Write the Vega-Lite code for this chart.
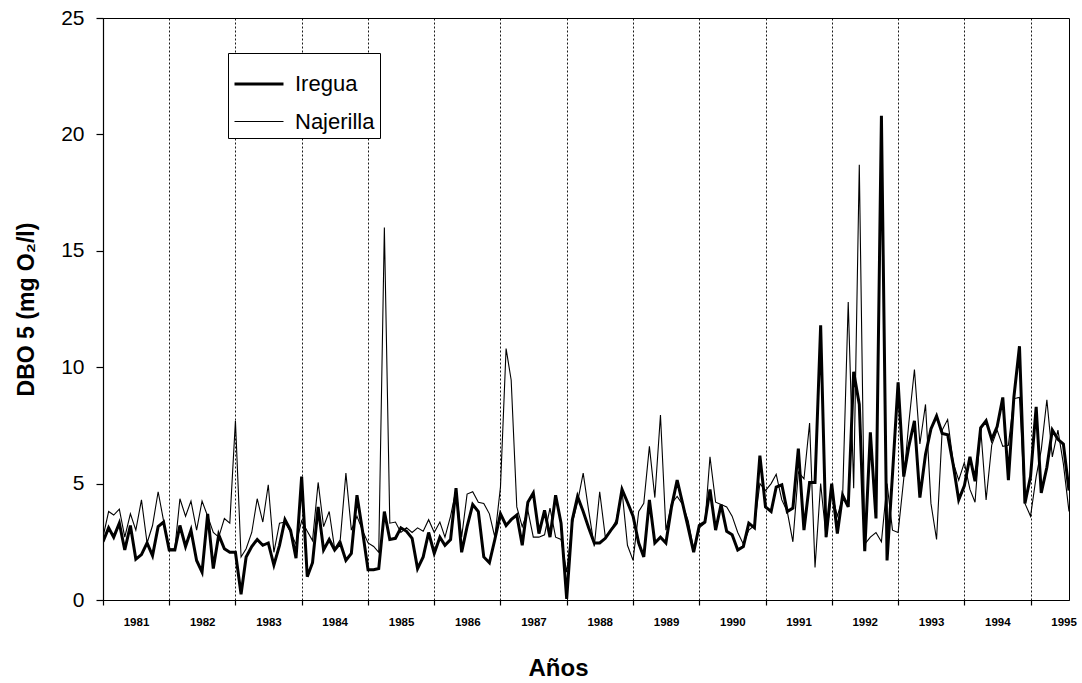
{
  "$schema": "https://vega.github.io/schema/vega-lite/v6.json",
  "width": 966,
  "height": 582,
  "autosize": "none",
  "padding": {"left": 103, "top": 18, "right": 13, "bottom": 83},
  "background": "white",
  "config": {
    "font": "Liberation Sans",
    "view": {"stroke": "black", "strokeWidth": 1},
    "axis": {"domainColor": "black", "tickColor": "black", "labelColor": "black", "titleColor": "black", "domainWidth": 1.2, "tickWidth": 1.2}
  },
  "data": {
    "format": {"parse": {"d": "utc:'%Y-%m'"}},
    "values": [
      {"d":"1981-01","Iregua":2.5,"Najerilla":2.7},{"d":"1981-02","Iregua":3.1,"Najerilla":3.8},{"d":"1981-03","Iregua":2.7,"Najerilla":3.65},{"d":"1981-04","Iregua":3.3,"Najerilla":3.9},{"d":"1981-05","Iregua":2.15,"Najerilla":2.7},{"d":"1981-06","Iregua":3.2,"Najerilla":3.7},{"d":"1981-07","Iregua":1.75,"Najerilla":3.0},{"d":"1981-08","Iregua":1.95,"Najerilla":4.3},{"d":"1981-09","Iregua":2.45,"Najerilla":2.45},{"d":"1981-10","Iregua":1.9,"Najerilla":3.2},{"d":"1981-11","Iregua":3.15,"Najerilla":4.65},{"d":"1981-12","Iregua":3.35,"Najerilla":3.4},
      {"d":"1982-01","Iregua":2.15,"Najerilla":2.2},{"d":"1982-02","Iregua":2.15,"Najerilla":2.2},{"d":"1982-03","Iregua":3.2,"Najerilla":4.35},{"d":"1982-04","Iregua":2.3,"Najerilla":3.6},{"d":"1982-05","Iregua":3.0,"Najerilla":4.25},{"d":"1982-06","Iregua":1.7,"Najerilla":3.0},{"d":"1982-07","Iregua":1.2,"Najerilla":4.25},{"d":"1982-08","Iregua":3.7,"Najerilla":3.6},{"d":"1982-09","Iregua":1.35,"Najerilla":2.9},{"d":"1982-10","Iregua":2.8,"Najerilla":2.7},{"d":"1982-11","Iregua":2.2,"Najerilla":3.5},{"d":"1982-12","Iregua":2.05,"Najerilla":3.3},
      {"d":"1983-01","Iregua":2.05,"Najerilla":7.7},{"d":"1983-02","Iregua":0.25,"Najerilla":1.85},{"d":"1983-03","Iregua":1.85,"Najerilla":2.2},{"d":"1983-04","Iregua":2.3,"Najerilla":2.9},{"d":"1983-05","Iregua":2.6,"Najerilla":4.35},{"d":"1983-06","Iregua":2.35,"Najerilla":3.35},{"d":"1983-07","Iregua":2.45,"Najerilla":4.95},{"d":"1983-08","Iregua":1.5,"Najerilla":2.05},{"d":"1983-09","Iregua":2.35,"Najerilla":3.3},{"d":"1983-10","Iregua":3.45,"Najerilla":3.35},{"d":"1983-11","Iregua":3.0,"Najerilla":2.9},{"d":"1983-12","Iregua":1.8,"Najerilla":2.4},
      {"d":"1984-01","Iregua":5.3,"Najerilla":3.4},{"d":"1984-02","Iregua":1.0,"Najerilla":2.95},{"d":"1984-03","Iregua":1.6,"Najerilla":2.55},{"d":"1984-04","Iregua":4.0,"Najerilla":5.05},{"d":"1984-05","Iregua":2.15,"Najerilla":3.15},{"d":"1984-06","Iregua":2.6,"Najerilla":3.8},{"d":"1984-07","Iregua":2.15,"Najerilla":2.2},{"d":"1984-08","Iregua":2.45,"Najerilla":2.6},{"d":"1984-09","Iregua":1.7,"Najerilla":5.45},{"d":"1984-10","Iregua":2.0,"Najerilla":3.0},{"d":"1984-11","Iregua":4.5,"Najerilla":3.6},{"d":"1984-12","Iregua":3.0,"Najerilla":3.0},
      {"d":"1985-01","Iregua":1.3,"Najerilla":2.45},{"d":"1985-02","Iregua":1.3,"Najerilla":2.3},{"d":"1985-03","Iregua":1.35,"Najerilla":2.05},{"d":"1985-04","Iregua":3.8,"Najerilla":16.0},{"d":"1985-05","Iregua":2.6,"Najerilla":3.3},{"d":"1985-06","Iregua":2.65,"Najerilla":3.35},{"d":"1985-07","Iregua":3.1,"Najerilla":2.9},{"d":"1985-08","Iregua":2.95,"Najerilla":3.1},{"d":"1985-09","Iregua":2.65,"Najerilla":2.9},{"d":"1985-10","Iregua":1.35,"Najerilla":3.1},{"d":"1985-11","Iregua":1.85,"Najerilla":2.95},{"d":"1985-12","Iregua":2.9,"Najerilla":3.45},
      {"d":"1986-01","Iregua":2.0,"Najerilla":2.9},{"d":"1986-02","Iregua":2.7,"Najerilla":3.35},{"d":"1986-03","Iregua":2.35,"Najerilla":2.7},{"d":"1986-04","Iregua":2.6,"Najerilla":3.6},{"d":"1986-05","Iregua":4.8,"Najerilla":4.75},{"d":"1986-06","Iregua":2.05,"Najerilla":2.7},{"d":"1986-07","Iregua":3.15,"Najerilla":4.55},{"d":"1986-08","Iregua":4.1,"Najerilla":4.65},{"d":"1986-09","Iregua":3.8,"Najerilla":4.2},{"d":"1986-10","Iregua":1.85,"Najerilla":4.15},{"d":"1986-11","Iregua":1.6,"Najerilla":3.7},{"d":"1986-12","Iregua":2.6,"Najerilla":2.7},
      {"d":"1987-01","Iregua":3.7,"Najerilla":4.85},{"d":"1987-02","Iregua":3.2,"Najerilla":10.8},{"d":"1987-03","Iregua":3.45,"Najerilla":9.45},{"d":"1987-04","Iregua":3.65,"Najerilla":4.0},{"d":"1987-05","Iregua":2.35,"Najerilla":3.15},{"d":"1987-06","Iregua":4.2,"Najerilla":3.85},{"d":"1987-07","Iregua":4.6,"Najerilla":2.7},{"d":"1987-08","Iregua":2.85,"Najerilla":2.7},{"d":"1987-09","Iregua":3.85,"Najerilla":2.8},{"d":"1987-10","Iregua":2.7,"Najerilla":3.95},{"d":"1987-11","Iregua":4.5,"Najerilla":2.7},{"d":"1987-12","Iregua":3.3,"Najerilla":2.6},
      {"d":"1988-01","Iregua":0.05,"Najerilla":1.2},{"d":"1988-02","Iregua":3.45,"Najerilla":3.3},{"d":"1988-03","Iregua":4.45,"Najerilla":4.2},{"d":"1988-04","Iregua":3.8,"Najerilla":5.45},{"d":"1988-05","Iregua":3.1,"Najerilla":3.85},{"d":"1988-06","Iregua":2.45,"Najerilla":2.3},{"d":"1988-07","Iregua":2.45,"Najerilla":4.65},{"d":"1988-08","Iregua":2.65,"Najerilla":2.7},{"d":"1988-09","Iregua":3.0,"Najerilla":3.0},{"d":"1988-10","Iregua":3.3,"Najerilla":3.45},{"d":"1988-11","Iregua":4.75,"Najerilla":4.7},{"d":"1988-12","Iregua":4.2,"Najerilla":2.35},
      {"d":"1989-01","Iregua":3.6,"Najerilla":1.7},{"d":"1989-02","Iregua":2.45,"Najerilla":3.8},{"d":"1989-03","Iregua":1.85,"Najerilla":4.15},{"d":"1989-04","Iregua":4.3,"Najerilla":6.6},{"d":"1989-05","Iregua":2.45,"Najerilla":4.4},{"d":"1989-06","Iregua":2.7,"Najerilla":7.95},{"d":"1989-07","Iregua":2.45,"Najerilla":3.0},{"d":"1989-08","Iregua":4.0,"Najerilla":4.15},{"d":"1989-09","Iregua":5.15,"Najerilla":4.45},{"d":"1989-10","Iregua":4.15,"Najerilla":4.1},{"d":"1989-11","Iregua":3.1,"Najerilla":3.4},{"d":"1989-12","Iregua":2.05,"Najerilla":2.2},
      {"d":"1990-01","Iregua":3.2,"Najerilla":3.1},{"d":"1990-02","Iregua":3.35,"Najerilla":3.3},{"d":"1990-03","Iregua":4.75,"Najerilla":6.15},{"d":"1990-04","Iregua":3.0,"Najerilla":4.2},{"d":"1990-05","Iregua":4.1,"Najerilla":4.1},{"d":"1990-06","Iregua":2.95,"Najerilla":4.0},{"d":"1990-07","Iregua":2.8,"Najerilla":3.6},{"d":"1990-08","Iregua":2.15,"Najerilla":2.9},{"d":"1990-09","Iregua":2.3,"Najerilla":2.4},{"d":"1990-10","Iregua":3.3,"Najerilla":3.0},{"d":"1990-11","Iregua":3.1,"Najerilla":3.2},{"d":"1990-12","Iregua":6.2,"Najerilla":5.0},
      {"d":"1991-01","Iregua":4.0,"Najerilla":4.7},{"d":"1991-02","Iregua":3.8,"Najerilla":5.0},{"d":"1991-03","Iregua":4.85,"Najerilla":5.4},{"d":"1991-04","Iregua":4.95,"Najerilla":4.3},{"d":"1991-05","Iregua":3.8,"Najerilla":3.8},{"d":"1991-06","Iregua":3.95,"Najerilla":2.5},{"d":"1991-07","Iregua":6.5,"Najerilla":5.5},{"d":"1991-08","Iregua":3.0,"Najerilla":5.2},{"d":"1991-09","Iregua":5.05,"Najerilla":7.6},{"d":"1991-10","Iregua":5.05,"Najerilla":1.4},{"d":"1991-11","Iregua":11.8,"Najerilla":5.0},{"d":"1991-12","Iregua":2.7,"Najerilla":2.7},
      {"d":"1992-01","Iregua":5.0,"Najerilla":4.6},{"d":"1992-02","Iregua":2.85,"Najerilla":3.6},{"d":"1992-03","Iregua":4.5,"Najerilla":4.4},{"d":"1992-04","Iregua":4.0,"Najerilla":12.8},{"d":"1992-05","Iregua":9.8,"Najerilla":4.8},{"d":"1992-06","Iregua":8.4,"Najerilla":18.7},{"d":"1992-07","Iregua":2.1,"Najerilla":2.4},{"d":"1992-08","Iregua":7.2,"Najerilla":2.7},{"d":"1992-09","Iregua":3.5,"Najerilla":2.9},{"d":"1992-10","Iregua":20.8,"Najerilla":2.5},{"d":"1992-11","Iregua":1.7,"Najerilla":5.0},{"d":"1992-12","Iregua":5.4,"Najerilla":3.0},
      {"d":"1993-01","Iregua":9.35,"Najerilla":2.9},{"d":"1993-02","Iregua":5.3,"Najerilla":5.2},{"d":"1993-03","Iregua":6.6,"Najerilla":7.6},{"d":"1993-04","Iregua":7.7,"Najerilla":9.9},{"d":"1993-05","Iregua":4.4,"Najerilla":6.7},{"d":"1993-06","Iregua":6.25,"Najerilla":8.4},{"d":"1993-07","Iregua":7.35,"Najerilla":4.15},{"d":"1993-08","Iregua":7.9,"Najerilla":2.6},{"d":"1993-09","Iregua":7.15,"Najerilla":7.3},{"d":"1993-10","Iregua":7.1,"Najerilla":7.75},{"d":"1993-11","Iregua":5.8,"Najerilla":5.9},{"d":"1993-12","Iregua":4.3,"Najerilla":5.15},
      {"d":"1994-01","Iregua":4.9,"Najerilla":5.9},{"d":"1994-02","Iregua":6.15,"Najerilla":4.75},{"d":"1994-03","Iregua":5.1,"Najerilla":4.2},{"d":"1994-04","Iregua":7.4,"Najerilla":7.4},{"d":"1994-05","Iregua":7.7,"Najerilla":4.3},{"d":"1994-06","Iregua":6.9,"Najerilla":6.65},{"d":"1994-07","Iregua":7.45,"Najerilla":7.3},{"d":"1994-08","Iregua":8.7,"Najerilla":6.6},{"d":"1994-09","Iregua":5.15,"Najerilla":6.65},{"d":"1994-10","Iregua":8.7,"Najerilla":8.65},{"d":"1994-11","Iregua":10.9,"Najerilla":8.7},{"d":"1994-12","Iregua":4.15,"Najerilla":4.15},
      {"d":"1995-01","Iregua":5.3,"Najerilla":3.6},{"d":"1995-02","Iregua":8.3,"Najerilla":5.3},{"d":"1995-03","Iregua":4.6,"Najerilla":6.45},{"d":"1995-04","Iregua":5.7,"Najerilla":8.6},{"d":"1995-05","Iregua":7.3,"Najerilla":6.15},{"d":"1995-06","Iregua":6.9,"Najerilla":7.3},{"d":"1995-07","Iregua":6.7,"Najerilla":5.85},{"d":"1995-08","Iregua":4.7,"Najerilla":3.8}
    ]
  },
  "transform": [{"fold": ["Iregua", "Najerilla"], "as": ["serie", "v"]}],
  "mark": {"type": "line", "color": "black", "clip": true},
  "encoding": {
    "x": {
      "field": "d",
      "type": "temporal",
      "scale": {"type": "utc", "domain": [{"year": 1981, "month": 1, "date": 1, "utc": true}, {"year": 1995, "month": 8, "date": 1, "utc": true}]},
      "axis": {
        "title": "Años",
        "titleFontSize": 24,
        "titleFontWeight": "bold",
        "titleX": 455,
        "titleY": 75,
        "titleAlign": "center",
        "titleBaseline": "alphabetic",
        "values": [
          {"year": 1981, "month": 1, "date": 1, "utc": true},{"year": 1982, "month": 1, "date": 1, "utc": true},{"year": 1983, "month": 1, "date": 1, "utc": true},{"year": 1984, "month": 1, "date": 1, "utc": true},{"year": 1985, "month": 1, "date": 1, "utc": true},{"year": 1986, "month": 1, "date": 1, "utc": true},{"year": 1987, "month": 1, "date": 1, "utc": true},{"year": 1988, "month": 1, "date": 1, "utc": true},{"year": 1989, "month": 1, "date": 1, "utc": true},{"year": 1990, "month": 1, "date": 1, "utc": true},{"year": 1991, "month": 1, "date": 1, "utc": true},{"year": 1992, "month": 1, "date": 1, "utc": true},{"year": 1993, "month": 1, "date": 1, "utc": true},{"year": 1994, "month": 1, "date": 1, "utc": true},{"year": 1995, "month": 1, "date": 1, "utc": true}
        ],
        "format": "%Y",
        "formatType": "utc",
        "labelOffset": 33,
        "labelFlush": false,
        "labelOverlap": false,
        "labelFontSize": 11.5,
        "labelFontWeight": "bold",
        "labelPadding": 11,
        "tickSize": 5,
        "grid": true,
        "gridColor": "black",
        "gridDash": [2, 2],
        "gridWidth": 1,
        "gridOpacity": 0.9
      }
    },
    "y": {
      "field": "v",
      "type": "quantitative",
      "scale": {"domain": [0, 25], "nice": false},
      "axis": {
        "title": "DBO 5 (mg O₂/l)",
        "titleFontSize": 23,
        "titleFontWeight": "bold",
        "titlePadding": 22,
        "values": [0, 5, 10, 15, 20, 25],
        "labelFontSize": 21,
        "labelPadding": 12,
        "tickSize": 7,
        "grid": false
      }
    },
    "strokeWidth": {
      "field": "serie",
      "type": "nominal",
      "scale": {"domain": ["Iregua", "Najerilla"], "range": [3, 1.1]},
      "legend": {
        "title": null,
        "orient": "none",
        "legendX": 125,
        "legendY": 35,
        "strokeColor": "black",
        "fillColor": "white",
        "padding": 5,
        "symbolType": "M-1,0H1",
        "symbolSize": 2400,
        "symbolStrokeColor": "black",
        "labelFontSize": 22,
        "labelColor": "black",
        "labelOffset": 10,
        "rowPadding": 1
      }
    }
  }
}
